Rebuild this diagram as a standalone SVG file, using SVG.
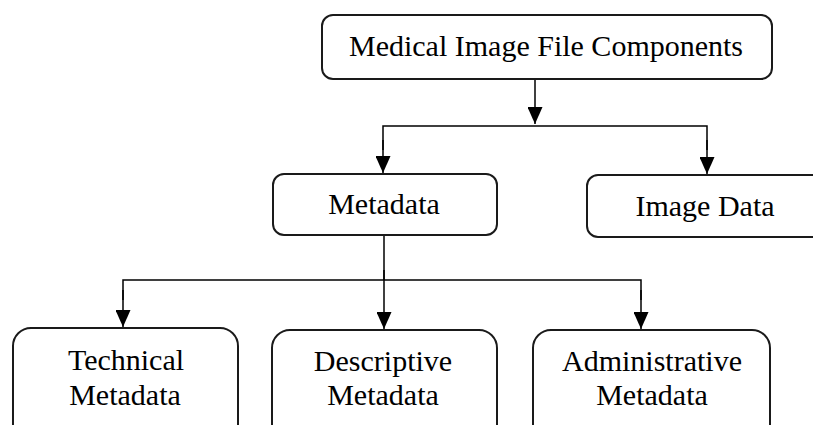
<svg xmlns="http://www.w3.org/2000/svg" width="813" height="425" viewBox="0 0 813 425">
<defs>
<marker id="ah" markerWidth="17" markerHeight="15" refX="17" refY="7.5" orient="auto" markerUnits="userSpaceOnUse" viewBox="0 0 17 15">
<path d="M0,0 L17,7.5 L0,15 Z" fill="#000"/>
</marker>
<style>
.box{fill:#fff;stroke:#1a1a1a;stroke-width:2}
.t{font-family:"Liberation Serif","Times New Roman",serif;font-size:30px;fill:#000;text-anchor:middle}
.c{fill:none;stroke:#000;stroke-width:1.5}
.a{fill:none;stroke:#000;stroke-width:1.5;marker-end:url(#ah)}
</style>
</defs>
<rect width="813" height="425" fill="#fff"/>
<g id="connectors">
<path class="a" d="M535,79 L535,124"/>
<path class="c" d="M383,150 L383,126 L707,126 L707,150"/>
<path class="a" d="M383,140 L383,173"/>
<path class="a" d="M707,140 L707,174"/>
<line class="c" x1="384" y1="236" x2="384" y2="280"/>
<path class="c" d="M123,300 L123,280 L641,280 L641,300"/>
<path class="a" d="M123,290 L123,327"/>
<path class="a" d="M384,270 L384,329"/>
<path class="a" d="M641,290 L641,329"/>
</g>
<g id="n-root">
<rect class="box" x="322" y="15" width="450" height="64" rx="11"/>
<text class="t" x="546" y="56">Medical Image File Components</text>
</g>
<g id="n-metadata">
<rect class="box" x="273" y="174" width="224" height="61" rx="11"/>
<text class="t" x="384" y="214">Metadata</text>
</g>
<g id="n-imagedata">
<rect class="box" x="587" y="175" width="240" height="62" rx="11"/>
<text class="t" x="705" y="216">Image Data</text>
</g>
<g id="n-technical">
<rect class="box" x="13" y="328" width="225" height="120" rx="18"/>
<text class="t" x="126" y="370">Technical</text>
<text class="t" x="125" y="405">Metadata</text>
</g>
<g id="n-descriptive">
<rect class="box" x="272" y="330" width="225" height="120" rx="18"/>
<text class="t" x="383" y="371">Descriptive</text>
<text class="t" x="383" y="405">Metadata</text>
</g>
<g id="n-administrative">
<rect class="box" x="533" y="330" width="237" height="120" rx="18"/>
<text class="t" x="652" y="371">Administrative</text>
<text class="t" x="652" y="405">Metadata</text>
</g>
</svg>
